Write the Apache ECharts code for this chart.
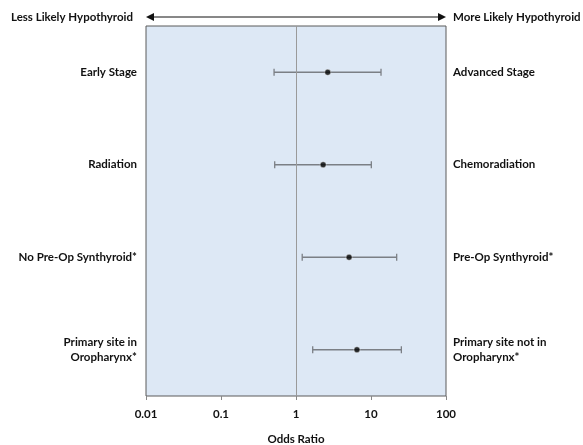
<!DOCTYPE html>
<html>
<head>
<meta charset="utf-8">
<script src="https://cdn.jsdelivr.net/npm/echarts@6/dist/echarts.min.js"></script>
<style>
  html, body { margin: 0; padding: 0; background: #fff; }
  #chart { width: 583px; height: 445px; }
</style>
</head>
<body>
<div id="chart"></div>
<script>
const leftLabels = ['Early Stage', 'Radiation', 'No Pre-Op Synthyroid*', 'Primary site in\nOropharynx*']
const rightLabels = ['Advanced Stage', 'Chemoradiation', 'Pre-Op Synthyroid*', 'Primary site not in\nOropharynx*']
const oddsRatio = [2.65, 2.3, 5.1, 6.5]
const ciLow = [0.51, 0.52, 1.21, 1.67]
const ciHigh = [13.6, 10.1, 22, 25.4]
const xTicks = [0.01, 0.1, 1, 10, 100]

const FONT = 'Lato'
const FS = 11.5
const TXT = '#111'
const chart = echarts.init(document.getElementById('chart'))

// grid box edges
const L = 146, R = 446, TOP = 26, BOTTOM = 396
const arrowY = 17

const option = {
  animation: false,
  textStyle: { fontFamily: FONT },
  grid: {
    left: L, right: 583 - R, top: TOP, bottom: 445 - BOTTOM,
    containLabel: false,
    outerBoundsMode: 'none',
    show: true,
    backgroundColor: '#dde8f5',
    borderColor: '#5a5a5a',
    borderWidth: 1
  },
  xAxis: {
    type: 'log',
    logBase: 10,
    min: xTicks[0],
    max: xTicks[xTicks.length - 1],
    name: 'Odds Ratio',
    nameLocation: 'middle',
    nameGap: 37,
    nameTextStyle: { fontFamily: FONT, fontWeight: 'bold', fontSize: FS, color: TXT },
    axisLine: { show: false },
    axisTick: { show: true, length: 4, lineStyle: { color: '#888' } },
    splitLine: { show: false },
    axisLabel: {
      margin: 12,
      fontFamily: FONT, fontWeight: 'bold', fontSize: FS, color: TXT,
      formatter: v => String(+v.toPrecision(3))
    }
  },
  yAxis: [
    {
      type: 'category',
      data: leftLabels,
      inverse: true,
      axisLine: { show: false },
      axisTick: { show: false },
      splitLine: { show: false },
      axisLabel: {
        margin: 9,
        align: 'right',
        fontFamily: FONT, fontWeight: 'bold', fontSize: FS, color: TXT, lineHeight: 15
      }
    },
    {
      type: 'category',
      data: rightLabels,
      inverse: true,
      position: 'right',
      axisLine: { show: false },
      axisTick: { show: false },
      splitLine: { show: false },
      axisLabel: {
        margin: 7,
        align: 'left',
        fontFamily: FONT, fontWeight: 'bold', fontSize: FS, color: TXT, lineHeight: 15
      }
    }
  ],
  graphic: [
    { type: 'line', shape: { x1: L + 6, y1: arrowY, x2: R - 6, y2: arrowY }, style: { stroke: '#111', lineWidth: 1 } },
    { type: 'polygon', shape: { points: [[L, arrowY], [L + 8, arrowY - 4], [L + 8, arrowY + 4]] }, style: { fill: '#111' } },
    { type: 'polygon', shape: { points: [[R, arrowY], [R - 8, arrowY - 4], [R - 8, arrowY + 4]] }, style: { fill: '#111' } },
    { type: 'text', x: L - 13, y: arrowY, style: { text: 'Less Likely Hypothyroid', align: 'right', verticalAlign: 'middle', font: 'bold ' + FS + 'px ' + FONT, fill: TXT } },
    { type: 'text', x: R + 7, y: arrowY, style: { text: 'More Likely Hypothyroid', align: 'left', verticalAlign: 'middle', font: 'bold ' + FS + 'px ' + FONT, fill: TXT } }
  ],
  series: [
    {
      type: 'custom',
      data: leftLabels.map((c, i) => [ciLow[i], ciHigh[i], i]),
      encode: { x: [0, 1], y: 2 },
      renderItem: (params, api) => {
        const p0 = api.coord([api.value(0), api.value(2)])
        const p1 = api.coord([api.value(1), api.value(2)])
        const cap = 3.5
        const style = { stroke: '#7b7f85', lineWidth: 1.3 }
        return {
          type: 'group',
          children: [
            { type: 'line', shape: { x1: p0[0], y1: p0[1], x2: p1[0], y2: p1[1] }, style },
            { type: 'line', shape: { x1: p0[0], y1: p0[1] - cap, x2: p0[0], y2: p0[1] + cap }, style },
            { type: 'line', shape: { x1: p1[0], y1: p1[1] - cap, x2: p1[0], y2: p1[1] + cap }, style }
          ]
        }
      },
      z: 3
    },
    {
      type: 'scatter',
      data: oddsRatio.map((v, i) => [v, i]),
      symbol: 'circle',
      symbolSize: 6,
      itemStyle: { color: '#000', borderColor: '#fff', borderWidth: 0.5 },
      z: 4,
      markLine: {
        silent: true,
        symbol: 'none',
        label: { show: false },
        lineStyle: { color: '#9a9a9a', width: 1, type: 'solid' },
        data: [{ xAxis: 1 }]
      }
    }
  ]
}

chart.setOption(option)
</script>
</body>
</html>
